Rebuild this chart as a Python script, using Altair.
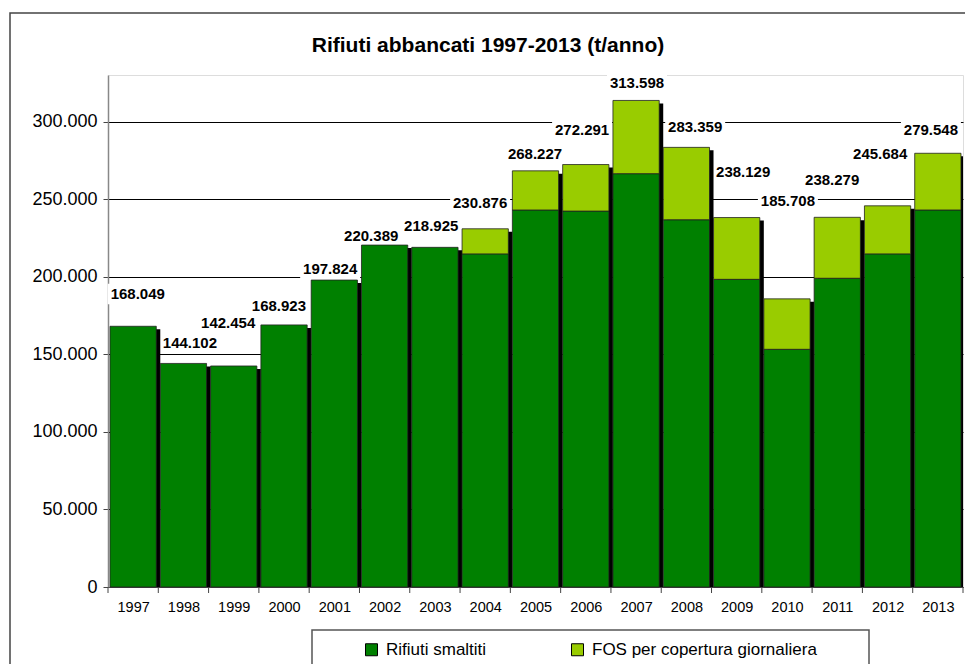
import altair as alt
import pandas as pd

# ---- data ----
years = [str(y) for y in range(1997, 2014)]
rifiuti_smaltiti = [168049, 144102, 142454, 168923, 197824, 220389, 218925, 214700,
                    243000, 242300, 266400, 236700, 198300, 153200, 199000, 214700, 243000]
totali = [168049, 144102, 142454, 168923, 197824, 220389, 218925, 230876,
          268227, 272291, 313598, 283359, 238129, 185708, 238279, 245684, 279548]
# where each value label sits (label centre, in t/anno) and across the bar (0..1)
label_level = [188800, 157300, 170100, 181100, 204900, 226200, 232900, 247500,
               279100, 294500, 324800, 296500, 267500, 248800, 262500, 279100, 294500]
label_across = [0.60, 0.64, 0.38, 0.39, 0.41, 0.21, 0.42, 0.39,
                0.49, 0.42, 0.52, 0.69, 0.64, 0.52, 0.39, 0.34, 0.35]
series = ["Rifiuti smaltiti", "FOS per copertura giornaliera"]
colors = ["#008000", "#99CC00"]
y_ticks = [0, 50000, 100000, 150000, 200000, 250000, 300000]
title = "Rifiuti abbancati 1997-2013 (t/anno)"

FONT = "Liberation Sans"
GAP = 0.04  # fraction of each category slot left empty on each side of a bar

n = len(years)
rows = []
for i, (y, s, t) in enumerate(zip(years, rifiuti_smaltiti, totali)):
    rows.append({"anno": y, "x0": i + GAP, "x1": i + 1 - GAP,
                 "serie": series[0], "da": 0, "a": s})
    if t > s:
        rows.append({"anno": y, "x0": i + GAP, "x1": i + 1 - GAP,
                     "serie": series[1], "da": s, "a": t})
stack = pd.DataFrame(rows)

tot = pd.DataFrame({"x0": [i + GAP for i in range(n)],
                    "x1": [i + 1 - GAP for i in range(n)],
                    "totale": totali})
labels = pd.DataFrame({
    "xc": [i + GAP + f * (1 - 2 * GAP) for i, f in enumerate(label_across)],
    "livello": label_level,
    "testo": [f"{v:,}".replace(",", ".") for v in totali],
})
bounds = pd.DataFrame({"b": list(range(n + 1))})
one = pd.DataFrame({"k": [0]})

xscale = alt.Scale(domain=[0, n], nice=False, zero=False)
yscale = alt.Scale(domain=[0, 330000], nice=False)

year_list = "[" + ",".join(f"'{y}'" for y in years) + "]"

shadow = alt.Chart(tot).mark_rect(color="#000", xOffset=4, x2Offset=4,
                                  yOffset=3, y2Offset=3, clip=True).encode(
    x=alt.X("x0:Q", scale=xscale, title=None,
            axis=alt.Axis(values=[i + 0.5 for i in range(n)], ticks=False,
                          labelExpr=f"{year_list}[floor(datum.value)]",
                          labelFontSize=14.5, labelFont=FONT, labelColor="#000",
                          labelPadding=13, domainColor="#444", grid=False,
                          labelFlush=False)),
    x2="x1:Q",
    y=alt.Y("totale:Q", scale=yscale, title=None,
            axis=alt.Axis(values=y_ticks, grid=True, gridColor="#000", gridWidth=1,
                          labelExpr="replace(format(datum.value, ',d'), ',', '.')",
                          labelFontSize=18, labelFont=FONT, labelColor="#000",
                          labelPadding=6, tickSize=5, tickColor="#444",
                          domainColor="#888", domainWidth=1.5)),
    y2=alt.datum(0),
)

xticks = alt.Chart(bounds).mark_rule(color="#444", strokeWidth=1).encode(
    x=alt.X("b:Q", scale=xscale),
    y=alt.value(512), y2=alt.value(518),
)

label_bg = alt.Chart(labels).mark_point(
    shape="M-1,-0.34L1,-0.34L1,0.34L-1,0.34Z", size=3600, filled=True,
    color="#fff", opacity=1,
).encode(
    x=alt.X("xc:Q", scale=xscale),
    y=alt.Y("livello:Q", scale=yscale),
)

bars = alt.Chart(stack).mark_rect(stroke="#222", strokeWidth=0.8).encode(
    x=alt.X("x0:Q", scale=xscale),
    x2="x1:Q",
    y=alt.Y("a:Q", scale=yscale),
    y2="da:Q",
    color=alt.Color("serie:N", scale=alt.Scale(domain=series, range=colors),
                    legend=alt.Legend(title=None, orient="none", legendX=255, legendY=566,
                                      direction="horizontal", columnPadding=82,
                                      symbolType="square", symbolSize=144,
                                      symbolStrokeColor="#000", symbolStrokeWidth=1,
                                      labelFontSize=17, labelFont=FONT, labelColor="#000",
                                      labelOffset=6, labelLimit=500, padding=0)),
)

texts = alt.Chart(labels).mark_text(fontSize=15, fontWeight="bold", font=FONT,
                                    color="#000", baseline="middle", align="center").encode(
    x=alt.X("xc:Q", scale=xscale),
    y=alt.Y("livello:Q", scale=yscale),
    text="testo:N",
)

title_mark = alt.Chart(one).mark_text(text=title, fontSize=21, fontWeight="bold", font=FONT,
                                      color="#000", align="center", baseline="middle").encode(
    x=alt.value(380), y=alt.value(-29),
)

legend_box = alt.Chart(one).mark_rect(fill="#fff", fillOpacity=0, stroke="#555",
                                      strokeWidth=1.5).encode(
    x=alt.value(204), x2=alt.value(761), y=alt.value(555), y2=alt.value(700),
)

outer_box = alt.Chart(one).mark_rect(fill="#fff", fillOpacity=0, stroke="#444",
                                     strokeWidth=1.5).encode(
    x=alt.value(-98), x2=alt.value(1000), y=alt.value(-62), y2=alt.value(700),
)

chart = alt.layer(outer_box, label_bg, shadow, bars, xticks, texts, title_mark,
                  legend_box).properties(
    width=855, height=512,
    padding={"left": 108, "top": 75, "right": 2, "bottom": 77},
    autosize=alt.AutoSizeParams(type="none"),
).configure_view(stroke=None).configure(background="#fff")

chart.save("out.html", embed_options={"renderer": "svg", "actions": False})
